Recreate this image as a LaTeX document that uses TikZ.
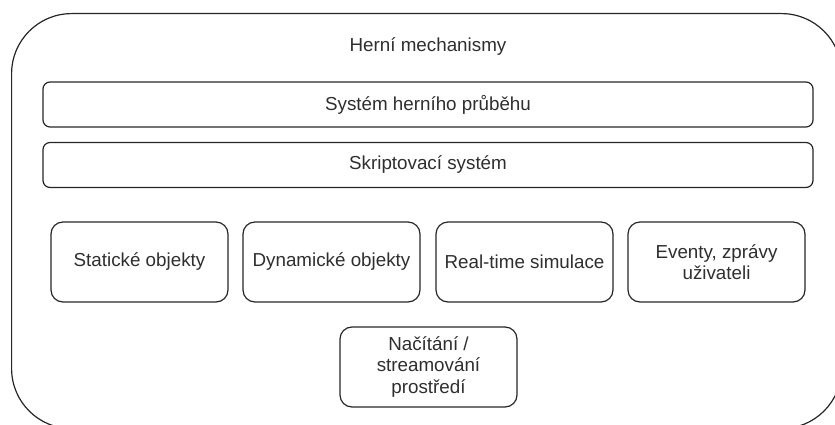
\documentclass[tikz,border=0pt]{standalone}
\usepackage{fontspec}
\setmainfont{Liberation Sans}
\definecolor{edge}{HTML}{262626}
\definecolor{ink}{HTML}{2E2E2E}
\begin{document}
\begin{tikzpicture}[x=1pt,y=-1pt,
  label text/.style={text=ink, font=\fontsize{18.8}{21.5}\selectfont, align=center},
  box/.style={draw=edge, line width=1.2pt, rounded corners=12pt,
    minimum width=177pt, minimum height=80pt, inner sep=0pt, label text},
  bar/.style={box, rounded corners=7pt, minimum width=770pt, minimum height=45pt}]
\useasboundingbox (0,0) rectangle (835,425);
% outer container, partly cut off by the page edge
\begin{scope}
  \clip (0,0) rectangle (835,425);
  \node[draw=edge, line width=1.2pt, rounded corners=60pt, minimum width=830pt,
        minimum height=415pt, inner sep=0pt, anchor=north west] (outer) at (11,13) {};
\end{scope}
\node[label text] (title) at (428,47) {Herní mechanismy};
% full-width layers
\node[bar] (gameplay) at (428,104.5) {Systém herního průběhu};
\node[bar] (script) at (428,165) {Skriptovací systém};
% subsystem row
\node[box] (static) at (139.5,262) {Statické objekty};
\node[box] (dynamic) at (331.5,262) {Dynamické objekty};
\node[box] (sim) at (524.5,262) {Real-time simulace};
\node[box] (events) at (716.5,262) {Eventy, zprávy\\uživateli};
\node[box] (stream) at (428.5,367) {Načítání /\\streamování\\prostředí};
\end{tikzpicture}
\end{document}
